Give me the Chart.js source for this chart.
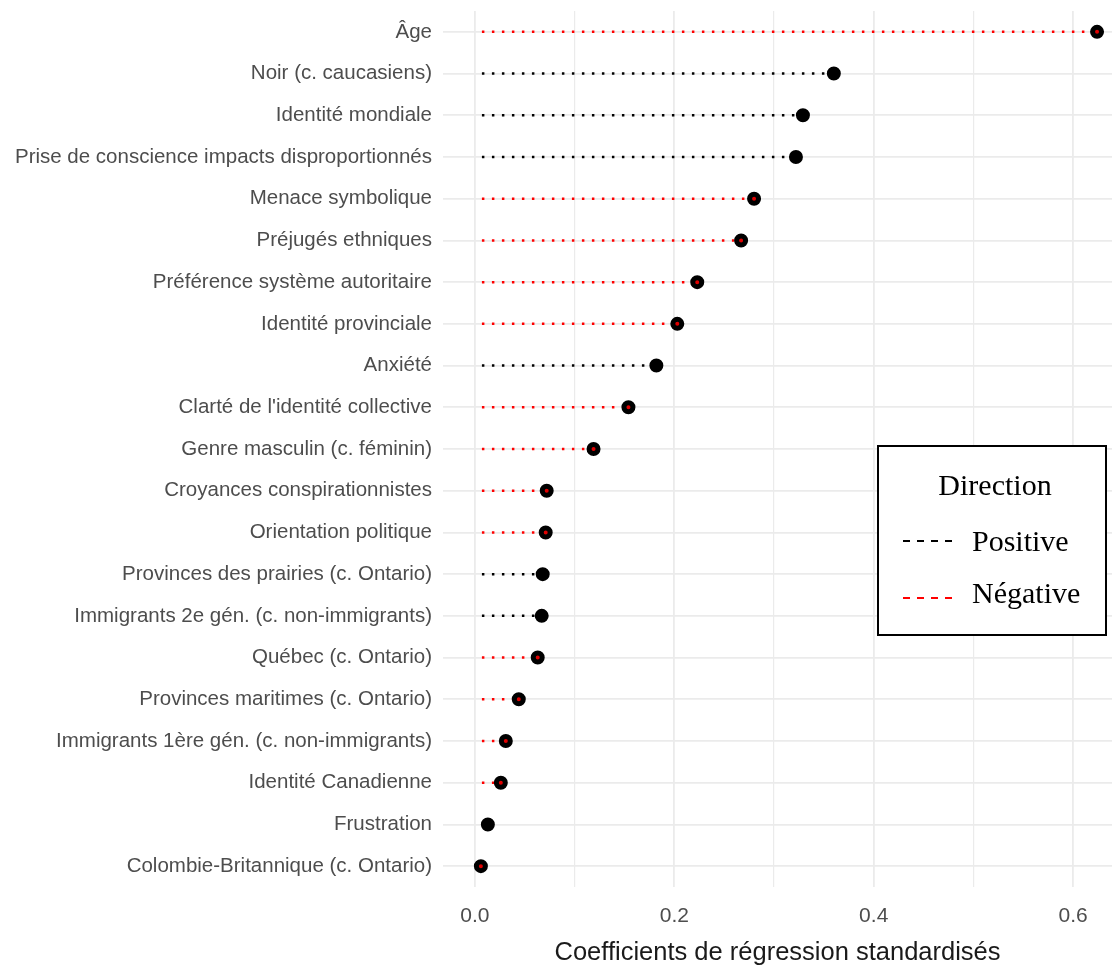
<!DOCTYPE html>
<html>
<head>
<meta charset="utf-8">
<script src="https://cdn.jsdelivr.net/npm/chart.js@4/dist/chart.umd.min.js"></script>
<style>
  body { margin: 0; background: #fff; }
  #wrap { position: relative; width: 1118px; height: 968px; }
  #legend { position: absolute; left: 877px; top: 445px; width: 230px; height: 191px;
            border: 2px solid #000; box-sizing: border-box; background: #fff; }
  .lg { position: absolute; font-family: "Liberation Serif", "Times New Roman", serif;
        font-size: 30px; line-height: 30px; color: #000; white-space: nowrap; }
  .dash { position: absolute; }
</style>
</head>
<body>
<div id="wrap">
  <canvas id="chart" width="1118" height="968"></canvas>
  <div id="legend"></div>
  <div class="lg" id="lgTitle" style="left:877px;width:236px;text-align:center;top:470px">Direction</div>
  <svg class="dash" style="left:903px;top:539px" width="50" height="4"><line x1="0" y1="2" x2="50" y2="2" stroke="#000" stroke-width="2" stroke-dasharray="7 7"/></svg>
  <div class="lg" style="left:972px;top:526px">Positive</div>
  <svg class="dash" style="left:903px;top:596px" width="50" height="4"><line x1="0" y1="2" x2="50" y2="2" stroke="#ff0000" stroke-width="2" stroke-dasharray="7 7"/></svg>
  <div class="lg" style="left:972px;top:578px">Négative</div>
</div>
<script>
// Variables (du haut vers le bas)
const categories = [
  "Âge",
  "Noir (c. caucasiens)",
  "Identité mondiale",
  "Prise de conscience impacts disproportionnés",
  "Menace symbolique",
  "Préjugés ethniques",
  "Préférence système autoritaire",
  "Identité provinciale",
  "Anxiété",
  "Clarté de l'identité collective",
  "Genre masculin (c. féminin)",
  "Croyances conspirationnistes",
  "Orientation politique",
  "Provinces des prairies (c. Ontario)",
  "Immigrants 2e gén. (c. non-immigrants)",
  "Québec (c. Ontario)",
  "Provinces maritimes (c. Ontario)",
  "Immigrants 1ère gén. (c. non-immigrants)",
  "Identité Canadienne",
  "Frustration",
  "Colombie-Britannique (c. Ontario)"
];

// Coefficients standardisés (valeur absolue)
const coefficients = [
  0.624, 0.360, 0.329, 0.322, 0.280, 0.267, 0.223, 0.203, 0.182, 0.154,
  0.119, 0.072, 0.071, 0.068, 0.067, 0.063, 0.044, 0.031, 0.026, 0.013, 0.006
];

// Direction de l'effet
const directions = [
  "Négative", "Positive", "Positive", "Positive", "Négative", "Négative",
  "Négative", "Négative", "Positive", "Négative", "Négative", "Négative",
  "Négative", "Positive", "Positive", "Négative", "Négative", "Négative",
  "Négative", "Positive", "Négative"
];

const xTicks = [0, 0.1, 0.2, 0.3, 0.4, 0.5, 0.6];
const xTickLabels = ["0.0", "", "0.2", "", "0.4", "", "0.6"];

const dirColor = d => (d === "Positive" ? "#000000" : "#ff0000");

// segments pointillés de 0 au coefficient
const segmentSets = categories.map((cat, i) => ({
  type: "line",
  data: [{ x: 0, y: cat }, { x: coefficients[i], y: cat }],
  borderColor: dirColor(directions[i]),
  borderWidth: 2.5,
  borderDash: [2.5, 7.5],
  borderDashOffset: 3,
  borderCapStyle: "butt",
  pointRadius: 0,
  fill: false,
  order: 2
}));

// points
const pointSet = {
  type: "scatter",
  data: categories.map((cat, i) => ({ x: coefficients[i], y: cat })),
  pointRadius: 4.5,
  pointBorderWidth: 5,
  pointBorderColor: "#000",
  pointBackgroundColor: directions.map(d => (d === "Positive" ? "#000" : "#e00000")),
  pointHoverRadius: 4.5,
  order: 1
};

const ctx = document.getElementById("chart").getContext("2d");
new Chart(ctx, {
  type: "line",
  data: { datasets: [...segmentSets, pointSet] },
  options: {
    responsive: false,
    animation: false,
    events: [],
    layout: { autoPadding: false, padding: { top: 11, right: 6, left: 0, bottom: 0 } },
    plugins: { legend: { display: false }, tooltip: { enabled: false } },
    scales: {
      x: {
        type: "linear",
        min: -0.032,
        max: 0.639,
        afterBuildTicks: scale => {
          scale.ticks = xTicks.map(v => ({ value: v }));
        },
        afterFit: scale => {
          scale.height = 81;
          scale.paddingLeft = 0;
          scale.paddingRight = 0;
        },
        ticks: {
          autoSkip: false,
          maxRotation: 0,
          padding: 17,
          color: "#4d4d4d",
          font: { family: "Liberation Sans, Arial, sans-serif", size: 21 },
          callback: (v, idx) => xTickLabels[idx]
        },
        grid: {
          color: "#ebebeb",
          lineWidth: c => (xTickLabels[c.index] === "" ? 1.2 : 1.8),
          drawTicks: false
        },
        border: { display: false },
        title: {
          display: true,
          text: "Coefficients de régression standardisés",
          color: "#1a1a1a",
          font: { family: "Liberation Sans, Arial, sans-serif", size: 25.5 },
          padding: { top: 3, bottom: 0 }
        }
      },
      y: {
        type: "category",
        labels: categories,
        offset: true,
        afterFit: scale => {
          scale.width = 443;
          scale.paddingTop = 0;
          scale.paddingBottom = 0;
        },
        ticks: {
          autoSkip: false,
          padding: 11,
          color: "#4d4d4d",
          font: { family: "Liberation Sans, Arial, sans-serif", size: 20.5 }
        },
        grid: { color: "#ebebeb", lineWidth: 1.8, offset: false, drawTicks: false },
        border: { display: false }
      }
    }
  }
});
</script>
</body>
</html>
